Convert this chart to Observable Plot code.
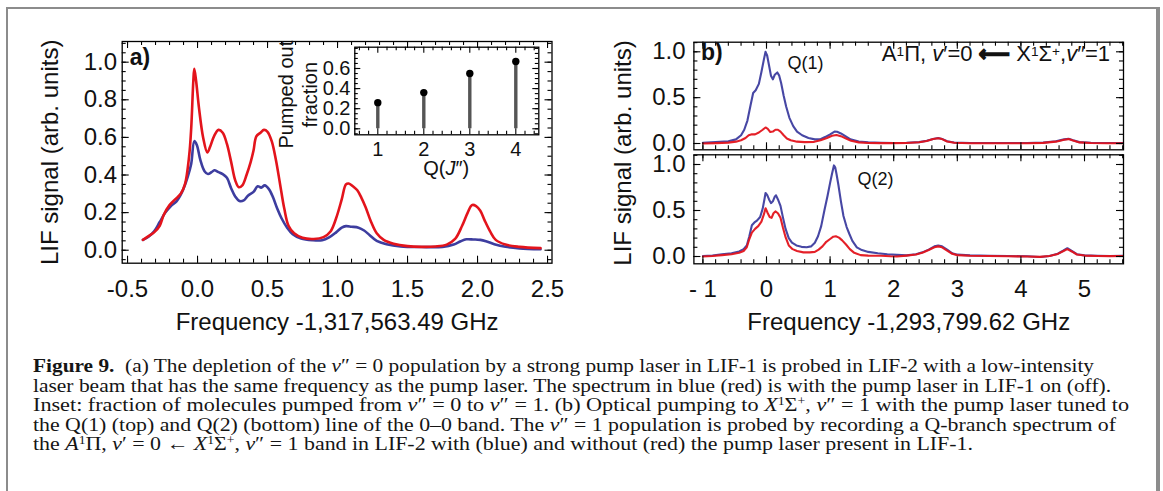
<!DOCTYPE html>
<html><head><meta charset="utf-8">
<script src="https://cdn.jsdelivr.net/npm/d3@7"></script>
<script src="https://cdn.jsdelivr.net/npm/@observablehq/plot@0.6"></script>
<style>
html,body{margin:0;padding:0;background:#fff;}
#fig{position:relative;width:1163px;height:491px;overflow:hidden;background:#fff;font-family:"Liberation Sans",Arial,sans-serif;}
#border{position:absolute;left:6px;top:7px;width:1148px;height:600px;border-left:2px solid #8c8c8c;border-top:2px solid #8c8c8c;border-right:4px solid #8c8c8c;}
.abs{position:absolute;}
.abs svg{overflow:visible;}
.ln{position:absolute;left:32.5px;font-family:"Liberation Serif","Times New Roman",serif;font-size:18.5px;line-height:19px;color:#151515;white-space:pre;transform-origin:0 50%;}
.ln sup{font-size:62%;line-height:0;vertical-align:0.5em;}
</style></head>
<body>
<div id="fig">
  <div id="border"></div>
  <div id="pa" class="abs" style="left:0;top:0"></div>
  <div id="pin" class="abs" style="left:240px;top:30px"></div>
  <div id="pb1" class="abs" style="left:600px;top:0"></div>
  <div id="pb2" class="abs" style="left:600px;top:152px"></div>
  <div class="ln" data-w="1061" style="top:357px"><b>Figure 9.</b>  (a) The depletion of the <i>v</i>″ = 0 population by a strong pump laser in LIF-1 is probed in LIF-2 with a low-intensity</div>
  <div class="ln" data-w="1078" style="top:376.5px">laser beam that has the same frequency as the pump laser. The spectrum in blue (red) is with the pump laser in LIF-1 on (off).</div>
  <div class="ln" data-w="1096" style="top:396px">Inset: fraction of molecules pumped from <i>v</i>″ = 0 to <i>v</i>″ = 1. (b) Optical pumping to <i>X</i><sup>1</sup>Σ<sup>+</sup>, <i>v</i>″ = 1 with the pump laser tuned to</div>
  <div class="ln" data-w="1083" style="top:415.5px">the Q(1) (top) and Q(2) (bottom) line of the 0–0 band. The <i>v</i>″ = 1 population is probed by recording a Q-branch spectrum of</div>
  <div class="ln" data-w="940" style="top:435px">the <i>A</i><sup>1</sup>Π, <i>v</i>′ = 0 ← <i>X</i><sup>1</sup>Σ<sup>+</sup>, <i>v</i>″ = 1 band in LIF-2 with (blue) and without (red) the pump laser present in LIF-1.</div>
</div>
<script>
// ---------------- DATA ----------------
// Panel a: LIF spectrum, pump off (red) and pump on (blue)
const aRedX  = [-0.39,-0.35,-0.31,-0.27,-0.24,-0.20,-0.16,-0.12,-0.09,-0.06,-0.045,-0.03,-0.023,-0.01,0.01,0.04,0.07,0.09,0.12,0.15,0.18,0.21,0.24,0.27,0.295,0.32,0.35,0.38,0.40,0.42,0.45,0.475,0.50,0.53,0.56,0.59,0.62,0.65,0.69,0.75,0.83,0.90,0.95,0.99,1.03,1.06,1.08,1.11,1.14,1.17,1.20,1.24,1.28,1.33,1.40,1.50,1.60,1.70,1.78,1.84,1.89,1.93,1.96,1.99,2.02,2.05,2.09,2.13,2.20,2.30,2.45];
const aRedY  = [0.055,0.075,0.095,0.13,0.19,0.24,0.27,0.30,0.35,0.50,0.65,0.90,0.965,0.90,0.76,0.60,0.52,0.55,0.61,0.64,0.625,0.565,0.47,0.37,0.335,0.345,0.40,0.47,0.53,0.605,0.625,0.64,0.63,0.58,0.48,0.35,0.22,0.13,0.09,0.066,0.06,0.07,0.10,0.17,0.27,0.35,0.355,0.34,0.32,0.28,0.23,0.15,0.09,0.055,0.035,0.022,0.018,0.02,0.03,0.06,0.13,0.20,0.24,0.235,0.21,0.16,0.10,0.055,0.03,0.018,0.011];
const aBlueX = [-0.39,-0.35,-0.31,-0.27,-0.23,-0.19,-0.15,-0.11,-0.07,-0.045,-0.023,-0.005,0.02,0.05,0.075,0.10,0.12,0.15,0.18,0.21,0.24,0.27,0.30,0.33,0.36,0.40,0.43,0.455,0.48,0.51,0.54,0.57,0.60,0.64,0.68,0.74,0.82,0.89,0.94,0.99,1.03,1.06,1.10,1.15,1.19,1.23,1.28,1.35,1.45,1.60,1.75,1.83,1.88,1.92,1.97,2.02,2.06,2.12,2.20,2.30,2.45];
const aBlueY = [0.055,0.072,0.10,0.15,0.20,0.235,0.26,0.31,0.39,0.46,0.58,0.56,0.48,0.42,0.405,0.415,0.425,0.415,0.405,0.385,0.33,0.285,0.262,0.265,0.29,0.31,0.34,0.333,0.345,0.325,0.28,0.22,0.17,0.12,0.085,0.062,0.053,0.053,0.068,0.095,0.12,0.128,0.125,0.12,0.105,0.08,0.05,0.032,0.02,0.017,0.018,0.03,0.048,0.058,0.057,0.055,0.048,0.032,0.018,0.01,0.005];

// Inset: pumped-out fraction
const insetQ    = [1, 2, 3, 4];
const insetFrac = [0.26, 0.36, 0.55, 0.67];

// Panel b, top: Q(1)
const b1BlueX = [-1.0,-0.8,-0.6,-0.48,-0.40,-0.35,-0.30,-0.25,-0.21,-0.17,-0.12,-0.08,-0.04,-0.015,0.01,0.04,0.07,0.10,0.13,0.17,0.20,0.23,0.27,0.31,0.36,0.42,0.48,0.56,0.66,0.76,0.84,0.92,1.00,1.07,1.11,1.17,1.24,1.32,1.45,1.6,1.8,2.0,2.2,2.4,2.52,2.62,2.70,2.76,2.84,2.95,3.2,3.5,3.8,4.1,4.35,4.55,4.68,4.75,4.82,4.92,5.1,5.35,5.6];
const b1BlueY = [0.007,0.015,0.025,0.045,0.09,0.15,0.25,0.42,0.55,0.58,0.65,0.78,0.92,1.0,0.96,0.85,0.74,0.70,0.75,0.775,0.74,0.66,0.52,0.40,0.28,0.19,0.13,0.09,0.06,0.045,0.045,0.07,0.10,0.13,0.128,0.11,0.08,0.045,0.022,0.012,0.008,0.006,0.008,0.015,0.03,0.05,0.06,0.05,0.025,0.01,0.006,0.005,0.005,0.006,0.01,0.025,0.045,0.052,0.035,0.015,0.008,0.006,0.005];
const b1RedX  = [-1.0,-0.8,-0.6,-0.48,-0.40,-0.33,-0.28,-0.23,-0.18,-0.12,-0.06,-0.015,0.02,0.06,0.10,0.14,0.18,0.22,0.27,0.32,0.38,0.48,0.6,0.75,0.85,0.95,1.03,1.10,1.17,1.25,1.33,1.45,1.6,1.8,2.0,2.2,2.4,2.52,2.62,2.70,2.76,2.84,2.95,3.2,3.5,3.8,4.1,4.35,4.55,4.68,4.75,4.82,4.92,5.1,5.35,5.6];
const b1RedY  = [0.0,0.004,0.01,0.02,0.035,0.06,0.09,0.10,0.10,0.12,0.15,0.175,0.16,0.125,0.13,0.15,0.15,0.13,0.09,0.055,0.035,0.02,0.015,0.018,0.035,0.06,0.085,0.092,0.08,0.055,0.03,0.012,0.006,0.004,0.004,0.006,0.014,0.028,0.05,0.058,0.048,0.022,0.008,0.003,0.002,0.002,0.003,0.007,0.02,0.04,0.048,0.032,0.012,0.005,0.003,0.003];

// Panel b, bottom: Q(2)
const b2BlueX = [-1.0,-0.85,-0.7,-0.55,-0.43,-0.36,-0.31,-0.27,-0.23,-0.19,-0.15,-0.10,-0.06,-0.03,-0.015,0.01,0.04,0.07,0.10,0.13,0.15,0.18,0.22,0.26,0.30,0.35,0.40,0.47,0.55,0.63,0.70,0.76,0.81,0.86,0.91,0.96,1.00,1.03,1.06,1.08,1.10,1.13,1.17,1.21,1.26,1.30,1.35,1.42,1.50,1.60,1.75,1.9,2.05,2.2,2.35,2.45,2.55,2.64,2.70,2.76,2.84,2.92,3.0,3.2,3.5,3.8,4.1,4.3,4.45,4.58,4.67,4.73,4.80,4.88,5.0,5.2,5.4,5.6];
const b2BlueY = [0.005,0.01,0.025,0.035,0.055,0.08,0.12,0.22,0.34,0.37,0.39,0.43,0.52,0.63,0.69,0.67,0.62,0.58,0.60,0.65,0.665,0.62,0.55,0.42,0.30,0.20,0.15,0.12,0.105,0.10,0.11,0.15,0.22,0.33,0.50,0.66,0.80,0.90,0.99,0.97,0.90,0.78,0.60,0.44,0.32,0.25,0.17,0.10,0.07,0.05,0.035,0.025,0.018,0.012,0.025,0.045,0.075,0.11,0.12,0.11,0.075,0.035,0.02,0.012,0.008,0.005,0.002,-0.005,0.005,0.03,0.065,0.09,0.06,0.025,0.012,0.008,0.005,0.008];
const b2RedX  = [-1.0,-0.85,-0.7,-0.55,-0.43,-0.36,-0.31,-0.27,-0.23,-0.18,-0.13,-0.08,-0.04,-0.015,0.02,0.05,0.08,0.11,0.14,0.18,0.22,0.26,0.30,0.35,0.41,0.48,0.58,0.68,0.76,0.82,0.88,0.94,1.00,1.05,1.09,1.14,1.19,1.25,1.31,1.38,1.48,1.6,1.8,1.95,2.05,2.2,2.35,2.45,2.55,2.64,2.70,2.76,2.84,2.92,3.0,3.2,3.5,3.8,4.1,4.3,4.45,4.58,4.67,4.73,4.80,4.88,5.0,5.2,5.4,5.6];
const b2RedY  = [0.0,0.005,0.015,0.025,0.04,0.06,0.10,0.19,0.26,0.30,0.33,0.38,0.46,0.525,0.47,0.43,0.42,0.47,0.49,0.47,0.42,0.31,0.21,0.12,0.08,0.06,0.045,0.045,0.05,0.075,0.11,0.16,0.19,0.215,0.22,0.205,0.175,0.13,0.08,0.04,0.015,0.01,0.008,0.002,0.0,0.01,0.022,0.04,0.07,0.10,0.11,0.10,0.065,0.03,0.015,0.008,0.005,0.003,0.0,-0.004,0.005,0.028,0.06,0.08,0.055,0.022,0.01,0.006,0.004,0.006];

// Tick labels
const aXTicks = [-0.5, 0, 0.5, 1, 1.5, 2, 2.5];
const aYTicks = [0, 0.2, 0.4, 0.6, 0.8, 1.0];
const inYTicks = [0, 0.2, 0.4, 0.6];
const bXTicks = [-1, 0, 1, 2, 3, 4, 5];
const bYTicks = [0, 0.5, 1.0];

const RED = "#e3141c", BLUE = "#3d3d9f";
const FONT = "Liberation Sans, Arial, sans-serif";

// ---------------- HELPERS ----------------
const pts = (xs, ys) => xs.map((x, i) => ({x, y: ys[i]}));
const rng = (a, b, s) => d3.range(Math.round(a / s), Math.round(b / s) + 1).map(k => +(k * s).toFixed(6));

function tickMarks({W, H, m, xMajor, xMinor, yMajor, yMinor, maj = 7, min = 4}) {
  const iw = W - m.l - m.r, ih = H - m.t - m.b;
  const s = {stroke: "#000", strokeWidth: 1.1};
  const out = [];
  const add = (vals, len, axis) => {
    if (!vals || !vals.length) return;
    if (axis === "x") {
      out.push(Plot.ruleX(vals, {x: d => d, insetTop: ih - len, ...s}));
      out.push(Plot.ruleX(vals, {x: d => d, insetBottom: ih - len, ...s}));
    } else {
      out.push(Plot.ruleY(vals, {y: d => d, insetRight: iw - len, ...s}));
      out.push(Plot.ruleY(vals, {y: d => d, insetLeft: iw - len, ...s}));
    }
  };
  add(xMajor, maj, "x"); add(xMinor, min, "x");
  add(yMajor, maj, "y"); add(yMinor, min, "y");
  out.push(Plot.frame({stroke: "#000", strokeWidth: 1.3}));
  return out;
}

// render-function mark for rich text (italics / superscripts) placed through the scales
function richText(items) {
  return (index, scales, values, dims) => {
    const g = d3.create("svg:g").attr("font-family", FONT);
    for (const it of items) {
      let px, py;
      if (it.x != null) px = scales.x(it.x);
      else px = it.fx === "center" ? dims.marginLeft + (dims.width - dims.marginLeft - dims.marginRight) / 2 : dims.marginLeft;
      if (it.y != null) py = scales.y(it.y);
      else py = it.fy === "bottom" ? dims.height - dims.marginBottom : dims.marginTop;
      px += it.dx || 0; py += it.dy || 0;
      const t = g.append("text")
        .attr("transform", `translate(${px},${py}) rotate(${it.rotate || 0})`)
        .attr("text-anchor", it.anchor || "start")
        .attr("font-size", it.size)
        .attr("dy", "0.35em").attr("fill", "#111");
      for (const p of it.parts) {
        const ts = t.append("tspan").text(p.t);
        if (p.i) ts.attr("font-style", "italic");
        if (p.b) ts.attr("font-weight", "bold").attr("font-family", "DejaVu Sans, sans-serif").attr("stroke", "#111").attr("stroke-width", 1.3);
        if (p.sup) ts.attr("baseline-shift", "38%").attr("font-size", "62%");
      }
    }
    return g.node();
  };
}

const fmt1 = d => d.toFixed(1);

// ---------------- PANEL a ----------------
{
  const W = 600, H = 340, m = {t: 41, r: 48.5, b: 77.3, l: 121.7};
  const chart = Plot.plot({
    width: W, height: H, marginTop: m.t, marginRight: m.r, marginBottom: m.b, marginLeft: m.l,
    style: {fontFamily: FONT, background: "transparent", color: "#111"},
    x: {domain: [-0.538, 2.532]},
    y: {domain: [-0.069, 1.110]},
    marks: [
      Plot.line(pts(aBlueX, aBlueY), {x: "x", y: "y", stroke: BLUE, strokeWidth: 2.6, curve: "catmull-rom"}),
      Plot.line(pts(aRedX, aRedY), {x: "x", y: "y", stroke: RED, strokeWidth: 2.6, curve: "catmull-rom"}),
      ...tickMarks({W, H, m, xMajor: aXTicks, xMinor: rng(-0.5, 2.5, 0.1), yMajor: aYTicks, yMinor: rng(-0.05, 1.1, 0.05)}),
      Plot.axisX(aXTicks, {tickSize: 0, tickPadding: 16.7, fontSize: 24, tickFormat: fmt1, label: null}),
      Plot.axisY(aYTicks, {tickSize: 0, tickPadding: 5.2, fontSize: 24, tickFormat: fmt1, label: null}),
      Plot.text(["Frequency -1,317,563.49 GHz"], {frameAnchor: "bottom", dy: 59.3, text: d => d, fontSize: 24, lineAnchor: "middle"}),
      Plot.text(["LIF signal (arb. units)"], {frameAnchor: "left", dx: -71.7, text: d => d, fontSize: 24, rotate: -90, textAnchor: "middle", lineAnchor: "middle"}),
      Plot.text(["a)"], {frameAnchor: "top-left", dx: 7.6, dy: 16.5, text: d => d, fontSize: 23, fontWeight: "bold", textAnchor: "start", lineAnchor: "middle"})
    ]
  });
  document.getElementById("pa").append(chart);
}

// ---------------- INSET ----------------
{
  const W = 310, H = 160, m = {t: 16.7, r: 11.7, b: 55.7, l: 114.3};
  const data = insetQ.map((q, i) => ({q, f: insetFrac[i]}));
  const chart = Plot.plot({
    width: W, height: H, marginTop: m.t, marginRight: m.r, marginBottom: m.b, marginLeft: m.l,
    style: {fontFamily: FONT, background: "transparent", color: "#111"},
    x: {domain: [0.5, 4.5]},
    y: {domain: [-0.06, 0.812]},
    marks: [
      Plot.ruleX(data, {x: "q", y1: 0, y2: "f", stroke: "#555", strokeWidth: 3.4}),
      Plot.dot(data, {x: "q", y: "f", r: 3.7, fill: "#000", stroke: "none"}),
      ...tickMarks({W, H, m, xMajor: insetQ, xMinor: rng(0.6, 4.4, 0.2).filter(v => Math.abs(v - Math.round(v)) > 1e-6), yMajor: inYTicks, yMinor: rng(-0.05, 0.8, 0.05), maj: 6, min: 3.5}),
      Plot.axisX(insetQ, {tickSize: 0, tickPadding: 6.8, fontSize: 20, tickFormat: d => String(d), label: null}),
      Plot.axisY(inYTicks, {tickSize: 0, tickPadding: 4.3, fontSize: 20, tickFormat: fmt1, label: null}),
      Plot.text(["Pumped out\nfraction"], {frameAnchor: "left", dx: -57.3, dy: 3.7, text: d => d, fontSize: 20, rotate: -90, textAnchor: "middle", lineAnchor: "middle", lineHeight: 1.2}),
      richText([{fx: "center", fy: "bottom", dy: 34, anchor: "middle", size: 20, parts: [{t: "Q("}, {t: "J", i: true}, {t: "″)"}]}])
    ]
  });
  document.getElementById("pin").append(chart);
}

// ---------------- PANEL b ----------------
const bXDomain = [-1.1415, 5.613];
{
  const W = 563, H = 152, m = {t: 41.7, r: 40, b: 2.7, l: 93.4};
  const chart = Plot.plot({
    width: W, height: H, marginTop: m.t, marginRight: m.r, marginBottom: m.b, marginLeft: m.l,
    style: {fontFamily: FONT, background: "transparent", color: "#111"},
    x: {domain: bXDomain, axis: null},
    y: {domain: [-0.0687, 1.1047]},
    marks: [
      Plot.line(pts(b1BlueX, b1BlueY), {x: "x", y: "y", stroke: BLUE, strokeWidth: 2.1, strokeOpacity: 0.95}),
      Plot.line(pts(b1RedX, b1RedY), {x: "x", y: "y", stroke: RED, strokeWidth: 2.1, strokeOpacity: 0.95}),
      ...tickMarks({W, H, m, xMajor: bXTicks, xMinor: rng(-1, 5.6, 0.2), yMajor: bYTicks, yMinor: rng(0, 1.1, 0.1)}),
      Plot.axisY(bYTicks, {tickSize: 0, tickPadding: 8.4, fontSize: 24, tickFormat: fmt1, label: null}),
      Plot.text(["b)"], {frameAnchor: "top-left", dx: 7, dy: 10.3, text: d => d, fontSize: 23, fontWeight: "bold", textAnchor: "start", lineAnchor: "middle"}),
      Plot.text(["Q(1)"], {x: 0.33, y: 0.87, text: d => d, fontSize: 18, textAnchor: "start", lineAnchor: "middle"}),
      richText([{x: 5.41, y: 0.98, anchor: "end", size: 22, parts: [
        {t: "A"}, {t: "1", sup: true}, {t: "Π, "}, {t: "v", i: true}, {t: "′=0 "}, {t: "⟵", b: true}, {t: " X"}, {t: "1", sup: true}, {t: "Σ"}, {t: "+", sup: true}, {t: ","}, {t: "v", i: true}, {t: "″=1"}
      ]}])
    ]
  });
  document.getElementById("pb1").append(chart);
}
{
  const W = 563, H = 188, m = {t: 2.3, r: 40, b: 76.7, l: 93.4};
  const chart = Plot.plot({
    width: W, height: H, marginTop: m.t, marginRight: m.r, marginBottom: m.b, marginLeft: m.l,
    style: {fontFamily: FONT, background: "transparent", color: "#111"},
    x: {domain: bXDomain},
    y: {domain: [-0.0793, 1.1054]},
    marks: [
      Plot.line(pts(b2BlueX, b2BlueY), {x: "x", y: "y", stroke: BLUE, strokeWidth: 2.1, strokeOpacity: 0.95}),
      Plot.line(pts(b2RedX, b2RedY), {x: "x", y: "y", stroke: RED, strokeWidth: 2.1, strokeOpacity: 0.95}),
      ...tickMarks({W, H, m, xMajor: bXTicks, xMinor: rng(-1, 5.6, 0.2), yMajor: bYTicks, yMinor: rng(0, 1.1, 0.1)}),
      Plot.axisX(bXTicks, {tickSize: 0, tickPadding: 16.1, fontSize: 24, tickFormat: d => d < 0 ? "- " + (-d) : String(d), label: null}),
      Plot.axisY(bYTicks, {tickSize: 0, tickPadding: 8.4, fontSize: 24, tickFormat: fmt1, label: null}),
      Plot.text(["Q(2)"], {x: 1.43, y: 0.84, text: d => d, fontSize: 18, textAnchor: "start", lineAnchor: "middle"}),
      Plot.text(["Frequency -1,293,799.62 GHz"], {frameAnchor: "bottom", dy: 58.7, text: d => d, fontSize: 24, lineAnchor: "middle"}),
      Plot.text(["LIF signal (arb. units)"], {frameAnchor: "left", dx: -70.4, dy: -56.3, text: d => d, fontSize: 24, rotate: -90, textAnchor: "middle", lineAnchor: "middle"})
    ]
  });
  document.getElementById("pb2").append(chart);
}

// ---------------- caption line fitting ----------------
for (const el of document.querySelectorAll(".ln")) {
  const target = +el.dataset.w;
  const w = el.getBoundingClientRect().width;
  el.style.transform = `scaleX(${(target / w).toFixed(4)})`;
}
</script>
</body></html>
